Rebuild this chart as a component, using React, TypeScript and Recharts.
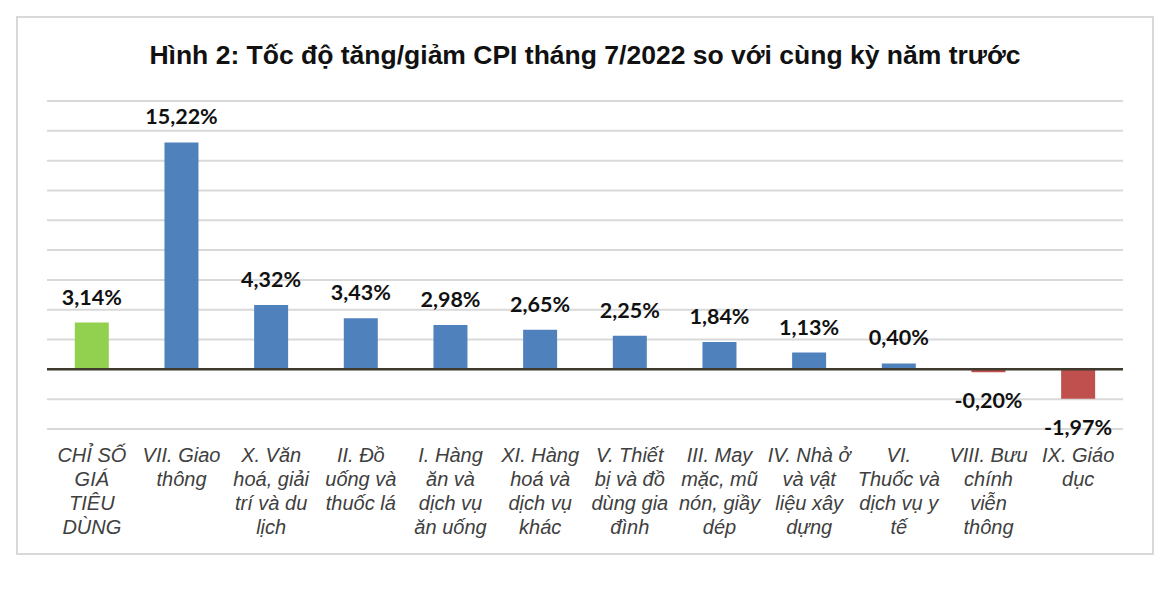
import React from 'react';
import { BarChart, Bar, XAxis, YAxis, CartesianGrid, ReferenceLine, Cell, LabelList } from 'recharts';

// Danh mục hàng hoá (xuống dòng như nhãn gốc)
const categories = [
  'CHỈ SỐ\nGIÁ\nTIÊU\nDÙNG',
  'VII. Giao\nthông',
  'X. Văn\nhoá, giải\ntrí và du\nlịch',
  'II. Đồ\nuống và\nthuốc lá',
  'I. Hàng\năn và\ndịch vụ\năn uống',
  'XI. Hàng\nhoá và\ndịch vụ\nkhác',
  'V. Thiết\nbị và đồ\ndùng gia\nđình',
  'III. May\nmặc, mũ\nnón, giầy\ndép',
  'IV. Nhà ở\nvà vật\nliệu xây\ndựng',
  'VI.\nThuốc và\ndịch vụ y\ntế',
  'VIII. Bưu\nchính\nviễn\nthông',
  'IX. Giáo\ndục',
];

const cpiChange = [3.14, 15.22, 4.32, 3.43, 2.98, 2.65, 2.25, 1.84, 1.13, 0.4, -0.2, -1.97];

const yTicks = [-4, -2, 0, 2, 4, 6, 8, 10, 12, 14, 16, 18];

const data = categories.map((name, i) => ({ name, value: cpiChange[i] }));

const barColor = (value: number, index: number) => {
  if (index === 0) return '#92D050'; // chỉ số chung
  if (value < 0) return '#C0504D';
  return '#4F81BD';
};

const fmt = (v: number) => v.toFixed(2).replace('.', ',') + '%';

const CategoryTick = (props: any) => {
  const { x, y, payload } = props;
  const lines = String(payload.value).split('\n');
  return (
    <g transform={`translate(${x},${y})`}>
      <text textAnchor="middle" fontFamily="'Liberation Sans', Arial, sans-serif" fontStyle="italic" fontSize={20} fill="#404040">
        {lines.map((line, i) => (
          <tspan key={i} x={0} y={33 + i * 24}>
            {line}
          </tspan>
        ))}
      </text>
    </g>
  );
};

const ValueLabel = (props: any) => {
  const { x, y, width, height, value } = props;
  const top = Math.min(y, y + height);
  const bottom = Math.max(y, y + height);
  const ty = value < 0 ? bottom + 36 : top - 18;
  return (
    <text x={x + width / 2} y={ty} textAnchor="middle" fontFamily="Lato, 'Open Sans', sans-serif" fontWeight="bold" fontSize={21.5} fill="#111">
      {fmt(value)}
    </text>
  );
};

export default function App() {
  return (
    <div style={{ position: 'absolute', left: 0, top: 0, width: 1176, height: 592, background: '#fff' }}>
      <div
        style={{
          position: 'absolute',
          left: 16,
          top: 16,
          width: 1138,
          height: 539,
          border: '2px solid #D9D9D9',
          boxSizing: 'border-box',
        }}
      />
      <div
        style={{
          position: 'absolute',
          left: 0,
          width: 1170,
          top: 39,
          textAlign: 'center',
          fontFamily: "'Liberation Sans', Arial, sans-serif",
          fontWeight: 'bold',
          fontSize: 26.5,
          lineHeight: '32px',
          color: '#111',
        }}
      >
        Hình 2: Tốc độ tăng/giảm CPI tháng 7/2022 so với cùng kỳ năm trước
      </div>
      <div style={{ position: 'absolute', left: 0, top: 0 }}>
        <BarChart
          width={1176}
          height={592}
          data={data}
          margin={{ top: 101, right: 53, bottom: 43, left: 47 }}
          barCategoryGap="31%"
        >
          <CartesianGrid vertical={false} stroke="#D9D9D9" strokeWidth={2} />
          <XAxis
            dataKey="name"
            axisLine={false}
            tickLine={false}
            tickSize={0}
            tickMargin={0}
            height={120}
            interval={0}
            tick={<CategoryTick />}
          />
          <YAxis hide domain={[-4, 18]} ticks={yTicks} type="number" />
          <ReferenceLine y={0} stroke="#403A2E" strokeWidth={2.5} />
          <Bar dataKey="value" isAnimationActive={false}>
            {data.map((d, i) => (
              <Cell key={i} fill={barColor(d.value, i)} />
            ))}
            <LabelList dataKey="value" content={<ValueLabel />} />
          </Bar>
        </BarChart>
      </div>
    </div>
  );
}
